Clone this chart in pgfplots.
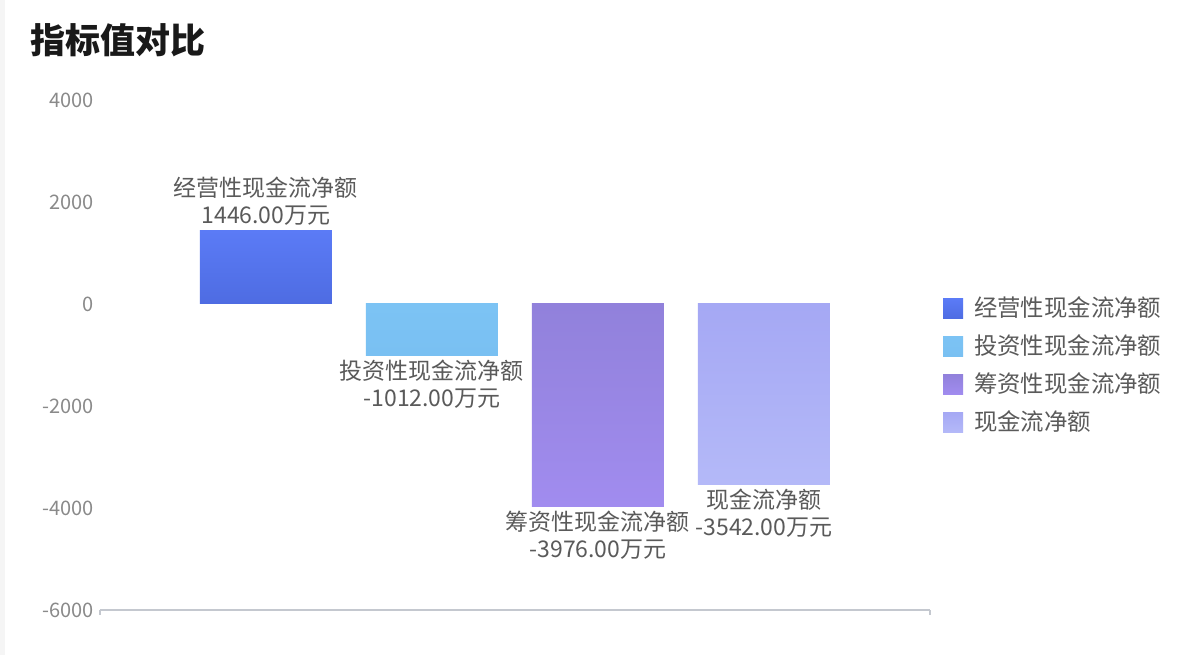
\documentclass[border=0pt]{standalone}
\usepackage{fontspec}
\setmainfont{Noto Sans CJK SC}
\usepackage{pgfplots}
\pgfplotsset{compat=1.18}
\definecolor{c1t}{HTML}{5B7BF6}
\definecolor{c1b}{HTML}{4E6CE2}
\definecolor{c2t}{HTML}{7CC3F4}
\definecolor{c2b}{HTML}{79C0F2}
\definecolor{c3t}{HTML}{9181DB}
\definecolor{c3b}{HTML}{A18CEF}
\definecolor{c4t}{HTML}{A5A8F4}
\definecolor{c4b}{HTML}{B4B9F8}
\definecolor{lbl}{HTML}{5A5A5A}
\definecolor{tick}{HTML}{8A8A8A}
\definecolor{axl}{HTML}{C4C8CF}
\begin{document}
\begin{tikzpicture}
\useasboundingbox (0,0) rectangle (600pt,327.5pt);
\fill[white] (0,0) rectangle (600pt,327.5pt);
\fill[black!4] (0,0) rectangle (2.5pt,327.5pt);
\node[anchor=west, inner sep=0pt, text=black!90] at (15pt,307.5pt) {\fontsize{17.5}{20}\selectfont\bfseries 指标值对比};
\begin{axis}[
  at={(50pt,22.5pt)}, anchor=south west,
  scale only axis, width=415pt, height=255pt,
  xmin=0, xmax=5, ymin=-6000, ymax=4000,
  xtick={0,5}, xticklabels={}, 
  ytick={-6000,-4000,-2000,0,2000,4000},
  axis x line*=bottom, axis y line*=left,
  x axis line style={draw=axl, line width=0.6pt, -},
  y axis line style={draw=none},
  xtick style={draw=axl, line width=0.6pt},
  ytick style={draw=none},
  tick align=outside, major tick length=2.5pt,
  /pgf/number format/assume math mode=true,
  /pgf/number format/1000 sep={},
  yticklabel style={font=\fontsize{10}{12}\selectfont, text=tick, xshift=3pt},
  scaled y ticks=false,
  bar width=66pt,
  nodes near coords align={vertical},
  every node near coord/.append style={align=center, text=lbl, font=\fontsize{11.5}{13.5}\selectfont, inner sep=2pt},
  legend image code/.code={\fill[#1] (0pt,-5pt) rectangle (10pt,5pt);},
  legend style={draw=none, fill=none, at={(1.008,0.630)}, anchor=north west,
    font=\fontsize{11.7}{13.5}\selectfont, text=lbl, row sep=3.5pt,
    /tikz/every odd column/.append style={column sep=3.5pt}},
  legend cell align=left,
  clip=false,
]
\addplot[ybar, draw=none, top color=c1t, bottom color=c1b,
  nodes near coords={经营性现金流净额\\1446.00万元}] coordinates {(1,1446)};
\addlegendentry{经营性现金流净额}
\addplot[ybar, draw=none, top color=c2t, bottom color=c2b,
  nodes near coords={投资性现金流净额\\-1012.00万元}] coordinates {(2,-1012)};
\addlegendentry{投资性现金流净额}
\addplot[ybar, draw=none, top color=c3t, bottom color=c3b,
  nodes near coords={筹资性现金流净额\\-3976.00万元}] coordinates {(3,-3976)};
\addlegendentry{筹资性现金流净额}
\addplot[ybar, draw=none, top color=c4t, bottom color=c4b,
  nodes near coords={现金流净额\\-3542.00万元}] coordinates {(4,-3542)};
\addlegendentry{现金流净额}
\end{axis}
\end{tikzpicture}
\end{document}
